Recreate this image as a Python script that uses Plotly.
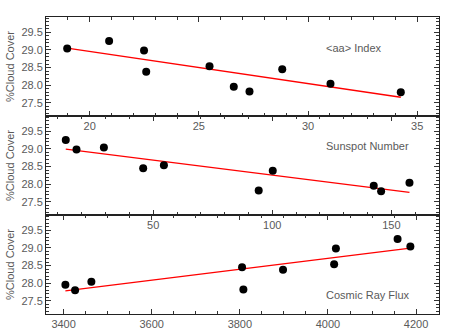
import numpy as np
import plotly.graph_objects as go

# Cloud cover (%) for each year, and the matching solar / cosmic-ray indices
cloud = [29.25, 29.04, 28.98, 28.54, 28.45, 28.38, 28.04, 27.96, 27.82, 27.80]
aa_index = [20.89, 18.97, 22.49, 25.49, 28.82, 22.59, 31.03, 26.60, 27.32, 34.25]
sunspot = [13.3, 29.3, 17.8, 54.5, 45.8, 100.2, 157.6, 142.6, 94.3, 145.7]
cosmic_ray = [4158, 4187, 4018, 4014, 3805, 3898, 3463, 3404, 3808, 3426]

panel_labels = ["<aa> Index", "Sunspot Number", "Cosmic Ray Flux"]
y_ticks = [27.5, 28.0, 28.5, 29.0, 29.5]
y_tick_text = ["27.5", "28.0", "28.5", "29.0", "29.5"]

GRAY = "#5a5a5a"
FONT = dict(family="Liberation Sans, Arial, sans-serif", size=11, color=GRAY)

fig = go.Figure()

panels = [
    (aa_index, "x", "y", [18, 36], 5, 1),
    (sunspot, "x2", "y2", [5, 170], 50, 10),
    (cosmic_ray, "x3", "y3", [3360, 4252], 200, 50),
]
domains = [[2 / 3, 1.0], [1 / 3, 2 / 3], [0.0, 1 / 3]]

for i, (xv, xa, ya, xr, dt, mdt) in enumerate(panels):
    xs = np.array(xv, dtype=float)
    cs = np.array(cloud, dtype=float)
    m, b = np.polyfit(xs, cs, 1)
    fx = np.array([xs.min(), xs.max()])
    fig.add_trace(go.Scatter(x=fx, y=m * fx + b, mode="lines", xaxis=xa, yaxis=ya,
                             line=dict(color="#ff0000", width=1.3), showlegend=False,
                             hoverinfo="skip"))
    fig.add_trace(go.Scatter(x=xs, y=cs, mode="markers", xaxis=xa, yaxis=ya,
                             marker=dict(color="black", size=8), showlegend=False))

    n = "" if i == 0 else str(i + 1)
    fig.layout["xaxis" + n] = dict(
        range=xr, anchor="y" + n, domain=[0, 1], dtick=dt, tick0=0,
        ticks="inside", ticklen=5, tickcolor="#333", showline=True, linecolor="#222",
        linewidth=1, mirror="ticks", showgrid=False, zeroline=False, automargin=False,
        tickfont=FONT, minor=dict(dtick=mdt, ticks="inside", ticklen=3, tickcolor="#333"),
    )
    fig.layout["yaxis" + n] = dict(
        range=[27.13, 29.93], anchor="x" + n, domain=domains[i],
        tickvals=y_ticks, ticktext=y_tick_text, automargin=False,
        ticks="inside", ticklen=5, tickcolor="#333", showline=True, linecolor="#222",
        linewidth=1, mirror="ticks", showgrid=False, zeroline=False,
        tickfont=FONT, minor=dict(dtick=0.1, ticks="inside", ticklen=3, tickcolor="#333"),
        title=dict(text="%Cloud Cover", font=FONT, standoff=4),
    )

label_y = [0.896, 0.566, 0.064]
for txt, yy in zip(panel_labels, label_y):
    fig.add_annotation(text=txt, x=0.7066, y=yy, xref="paper", yref="paper",
                       xanchor="left", yanchor="middle", showarrow=False, font=FONT)

fig.update_layout(
    width=463, height=331,
    margin=dict(l=46, r=24, t=17, b=17),
    paper_bgcolor="white", plot_bgcolor="white",
    font=FONT,
)

fig.write_html("out.html")
